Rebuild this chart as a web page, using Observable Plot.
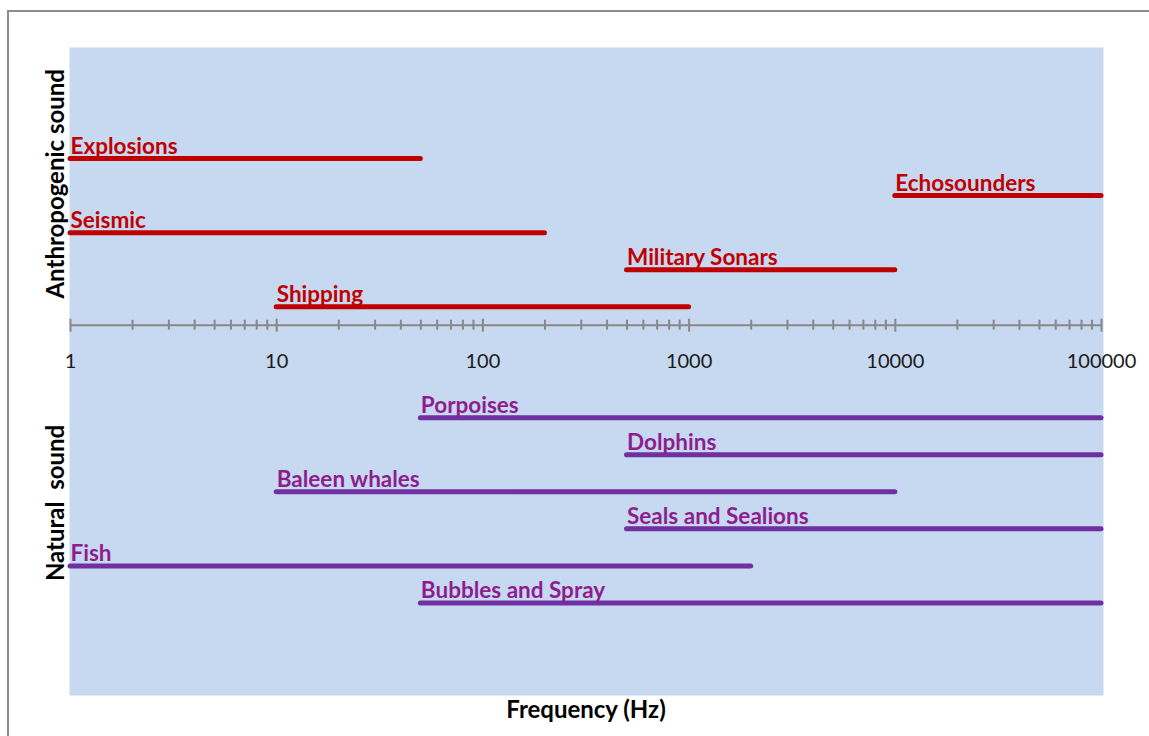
<!DOCTYPE html>
<html>
<head>
<meta charset="utf-8">
<script src="https://cdn.jsdelivr.net/npm/d3@7"></script>
<script src="https://cdn.jsdelivr.net/npm/@observablehq/plot@0.6"></script>
<style>
  html, body { margin: 0; padding: 0; background: #fff; }
  #wrap { position: relative; width: 1149px; height: 736px; overflow: hidden; }
  #border { position: absolute; left: 7px; top: 10px; width: 1200px; height: 800px;
            border: 2px solid #8c8c8c; box-sizing: border-box; pointer-events: none; }
  #wrap svg { position: absolute; left: 0; top: 0; }
</style>
</head>
<body>
<div id="wrap"><div id="border"></div></div>
<script>
// ---- data ----
const anthroCategories = ["Explosions", "Echosounders", "Seismic", "Military Sonars", "Shipping"];
const anthroLow  = [1, 10000, 1, 500, 10];
const anthroHigh = [50, 100000, 200, 10000, 1000];

const naturalCategories = ["Porpoises", "Dolphins", "Baleen whales", "Seals and Sealions", "Fish", "Bubbles and Spray"];
const naturalLow  = [50, 500, 10, 500, 1, 50];
const naturalHigh = [100000, 100000, 10000, 100000, 2000, 100000];

const tickLabels = [1, 10, 100, 1000, 10000, 100000];
const groupTitles = ["Anthropogenic sound", "Natural\u00A0 sound"];
const xTitle = "Frequency (Hz)";

// ---- layout (rows in y units) ----
const anthroStart = 3, naturalStart = 10, axisRow = 7.5;
const pxPerRow = 648 / 17.5;

const bars = [
  ...anthroCategories.map((name, i) => ({name, low: anthroLow[i], high: anthroHigh[i], row: anthroStart + i, group: "a"})),
  ...naturalCategories.map((name, i) => ({name, low: naturalLow[i], high: naturalHigh[i], row: naturalStart + i, group: "n"}))
];
const barColor = {a: "#C00000", n: "#7030A0"};
const labelColor = {a: "#C00000", n: "#8E1E8E"};

const minorTicks = [];
for (let k = 0; k < 5; k++) for (let m = 2; m <= 9; m++) minorTicks.push(m * Math.pow(10, k));

const titles = [
  {text: groupTitles[0], row: anthroStart + 0.68},
  {text: groupTitles[1], row: naturalStart + 2.3}
];

const font = "Lato, 'Open Sans', sans-serif";

const chart = Plot.plot({
  width: 1149,
  height: 736,
  marginLeft: 70,
  marginRight: 48,
  marginTop: 47,
  marginBottom: 41,
  style: {fontFamily: font, background: "transparent"},
  x: {type: "log", domain: [1, 100000], axis: null},
  y: {domain: [0, 17.5], reverse: true, axis: null},
  marks: [
    Plot.frame({fill: "#C6D9F1", stroke: null, insetLeft: -1, insetRight: -2}),
    // axis line & ticks
    Plot.ruleY([axisRow], {stroke: "#888888", strokeWidth: 2}),
    Plot.ruleX(minorTicks, {x: d => d, y1: axisRow - 5 / pxPerRow, y2: axisRow + 5 / pxPerRow, stroke: "#888888", strokeWidth: 2}),
    Plot.ruleX(tickLabels, {x: d => d, y1: axisRow - 6 / pxPerRow, y2: axisRow + 7 / pxPerRow, stroke: "#888888", strokeWidth: 2}),
    Plot.text(tickLabels, {x: d => d, y: () => axisRow, text: d => String(d), lineAnchor: "bottom", dy: 42.5, fontSize: 20, fill: "#1a1a1a"}),
    // bars
    Plot.ruleY(bars, {x1: "low", x2: "high", y: "row", stroke: d => barColor[d.group], strokeWidth: 5, strokeLinecap: "round"}),
    Plot.text(bars, {x: "low", y: "row", text: "name", textAnchor: "start", lineAnchor: "bottom", dy: -5, dx: 0,
      fill: d => labelColor[d.group], fontSize: 22.5, fontWeight: "bold"}),
    // group titles
    Plot.text(titles, {frameAnchor: "left", y: "row", text: "text", rotate: -90, textAnchor: "middle", dx: -14,
      fontSize: 24, fontWeight: "bold", fill: "#000"}),
    // x title
    Plot.text([xTitle], {frameAnchor: "bottom", text: d => d, lineAnchor: "bottom", dy: 22, fontSize: 24, fontWeight: "bold", fill: "#000"})
  ]
});
document.getElementById("wrap").appendChild(chart);
</script>
</body>
</html>
